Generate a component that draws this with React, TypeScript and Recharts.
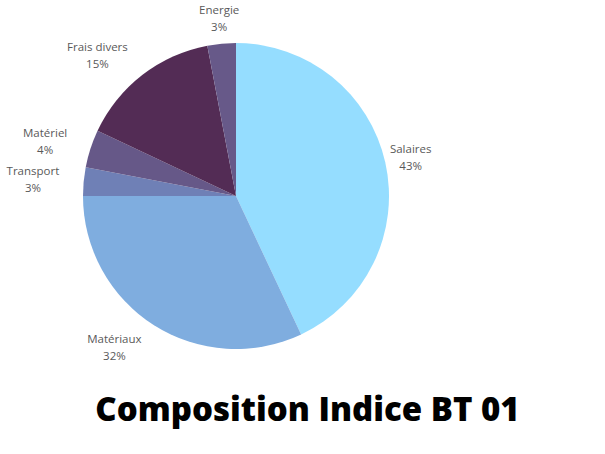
import React from "react";
import { PieChart, Pie, Cell } from "recharts";

const categories = ["Salaires", "Matériaux", "Transport", "Matériel", "Frais divers", "Energie"];
const shares = [43, 32, 3, 4, 15, 3];
const COLORS = [
  "#95DDFF", // salaires
  "#7FADDF", // matériaux
  "#6F80B6", // transport
  "#665888", // matériel
  "#532C55", // frais divers
  "#675989", // energie
];

const data = categories.map((name, i) => ({ name, value: shares[i] }));

const RADIAN = Math.PI / 180;
const LABEL_SIZE = 11.5;
const LABEL_FONT = `${LABEL_SIZE}px 'Open Sans'`;

let ctx: CanvasRenderingContext2D | null = null;
function textWidth(s: string) {
  if (!ctx) ctx = document.createElement("canvas").getContext("2d");
  if (!ctx) return s.length * 6.5;
  ctx.font = LABEL_FONT;
  return ctx.measureText(s).width;
}

function renderLabel(props: any) {
  const { cx, cy, midAngle, outerRadius, name, value } = props;
  const r = outerRadius + 26;
  const x = cx + r * Math.cos(-midAngle * RADIAN);
  const y = cy + r * Math.sin(-midAngle * RADIAN);
  const pct = `${value}%`;
  const w = Math.max(textWidth(name), textWidth(pct));
  // labels on the left side hang off the point, the others are centred on it
  const centerX = x < cx - 30 ? x + 1.5 - w / 2 : x;
  return (
    <text
      x={centerX}
      y={y}
      fill="#595959"
      fontSize={LABEL_SIZE}
      fontFamily="'Open Sans', sans-serif"
      textAnchor="middle"
    >
      <tspan x={centerX} dy={-4}>{name}</tspan>
      <tspan x={centerX} dy={17}>{pct}</tspan>
    </text>
  );
}

export default function App() {
  return (
    <div style={{ position: "absolute", left: 0, top: 0, width: 605, height: 454, background: "#fff" }}>
      <PieChart width={605} height={454} margin={{ top: 0, right: 0, bottom: 0, left: 0 }}>
        <Pie
          data={data}
          dataKey="value"
          nameKey="name"
          cx={236}
          cy={196}
          outerRadius={153}
          startAngle={90}
          endAngle={-270}
          stroke="none"
          labelLine={false}
          label={renderLabel}
          isAnimationActive={false}
        >
          {data.map((entry, index) => (
            <Cell key={`cell-${index}`} fill={COLORS[index % COLORS.length]} />
          ))}
        </Pie>
      </PieChart>
      <div
        style={{
          position: "absolute",
          left: 0,
          width: 615,
          top: 385,
          textAlign: "center",
          fontFamily: "'Open Sans', sans-serif",
          fontWeight: 800,
          fontSize: 33,
          color: "#000",
          lineHeight: "48px",
        }}
      >
        Composition Indice BT 01
      </div>
    </div>
  );
}
